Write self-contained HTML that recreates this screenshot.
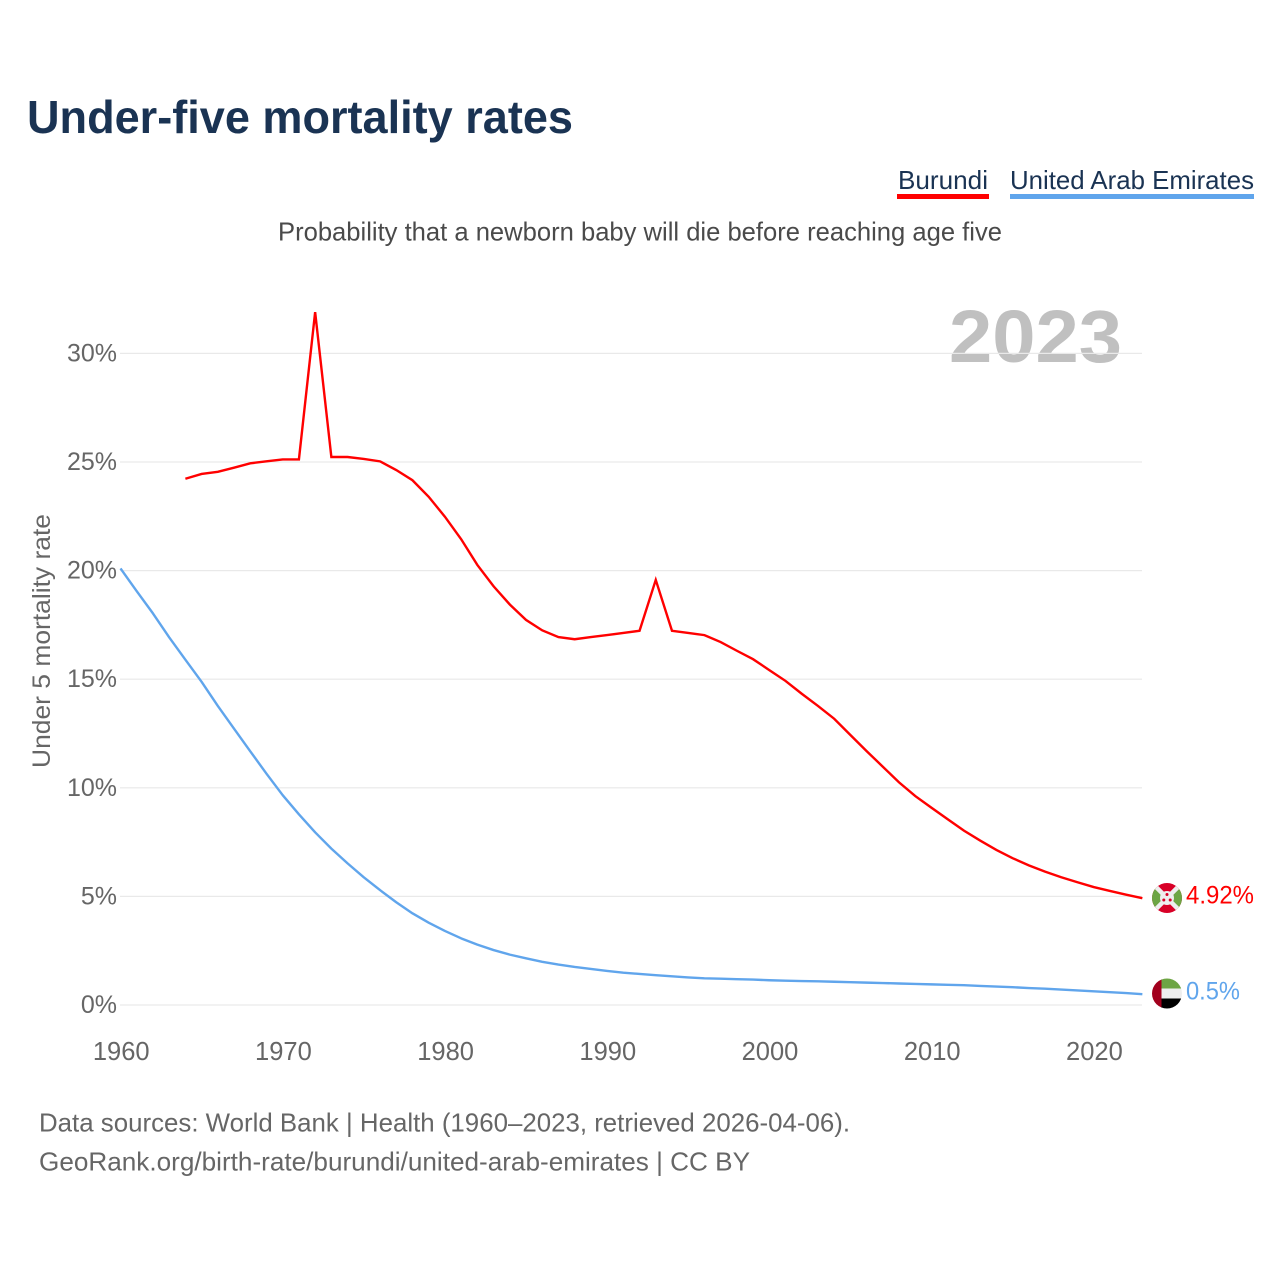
<!DOCTYPE html>
<html lang="en">
<head>
<meta charset="utf-8">
<title>Under-five mortality rates</title>
<style>
html,body{margin:0;padding:0;background:#fff;width:1280px;height:1280px;overflow:hidden}
svg{display:block;font-family:"Liberation Sans",sans-serif}
</style>
</head>
<body>
<svg id="chart" xmlns="http://www.w3.org/2000/svg" width="1280" height="1280" viewBox="0 0 1280 1280">
  <text x="27" y="133" font-size="46" font-weight="700" fill="#1a3353" textLength="546" lengthAdjust="spacingAndGlyphs">Under-five mortality rates</text>
  <text x="898" y="189" font-size="26" fill="#1a3353" textLength="90" lengthAdjust="spacingAndGlyphs">Burundi</text>
  <rect x="897" y="194" width="92" height="5" fill="#ff0000"/>
  <text x="1010" y="189" font-size="26" fill="#1a3353" textLength="244" lengthAdjust="spacingAndGlyphs">United Arab Emirates</text>
  <rect x="1010" y="194" width="244" height="5" fill="#60a5ec"/>
  <text x="278" y="240.5" font-size="26" fill="#4a4a4a" textLength="724" lengthAdjust="spacingAndGlyphs">Probability that a newborn baby will die before reaching age five</text>
  <text x="949" y="362" font-size="74" font-weight="700" fill="#c0c0c0" textLength="173" lengthAdjust="spacingAndGlyphs">2023</text>
  <g id="grid"></g>
  <g id="yticks"></g>
  <g id="xticks"></g>
  <text transform="translate(50,768) rotate(-90)" font-size="25" fill="#666666" textLength="254" lengthAdjust="spacingAndGlyphs">Under 5 mortality rate</text>
  <path id="line-uae" fill="none" stroke="#60a5ec" stroke-width="2.4" stroke-linejoin="round"/>
  <path id="line-burundi" fill="none" stroke="#ff0000" stroke-width="2.4" stroke-linejoin="miter"/>
  <defs>
    <clipPath id="clip-bi"><circle cx="1167" cy="898" r="15"/></clipPath>
    <clipPath id="clip-ae"><circle cx="1167" cy="993.5" r="15"/></clipPath>
  </defs>
  <g id="flag-burundi" clip-path="url(#clip-bi)">
    <rect x="1152" y="883" width="30" height="30" fill="#d80027"/>
    <polygon points="1152,883 1167,898 1152,913" fill="#6da544"/>
    <polygon points="1182,883 1167,898 1182,913" fill="#6da544"/>
    <path d="M1152 883L1182 913M1182 883L1152 913" stroke="#eeeeee" stroke-width="4.5"/>
    <circle cx="1167" cy="898" r="7" fill="#eeeeee"/>
    <circle cx="1167" cy="894.5" r="1.5" fill="#d80027"/>
    <circle cx="1163.8" cy="900" r="1.5" fill="#d80027"/>
    <circle cx="1170.2" cy="900" r="1.5" fill="#d80027"/>
  </g>
  <g id="flag-uae" clip-path="url(#clip-ae)">
    <rect x="1161" y="978.5" width="21" height="10" fill="#6da544"/>
    <rect x="1161" y="988.5" width="21" height="10" fill="#eeeeee"/>
    <rect x="1161" y="998.5" width="21" height="10" fill="#000000"/>
    <rect x="1152" y="978.5" width="9.5" height="30" fill="#a2001d"/>
  </g>
  <text id="value-burundi" x="1186" y="903.5" font-size="25" fill="#ff0000" textLength="68" lengthAdjust="spacingAndGlyphs">4.92%</text>
  <text id="value-uae" x="1186" y="999.5" font-size="25" fill="#60a5ec" textLength="54" lengthAdjust="spacingAndGlyphs">0.5%</text>
  <text x="39" y="1131.5" font-size="26" fill="#666666" textLength="811" lengthAdjust="spacingAndGlyphs">Data sources: World Bank | Health (1960–2023, retrieved 2026-04-06).</text>
  <text x="39" y="1170.5" font-size="26" fill="#666666" textLength="711" lengthAdjust="spacingAndGlyphs">GeoRank.org/birth-rate/burundi/united-arab-emirates | CC BY</text>
</svg>
<script>
const yTickValues = [0, 5, 10, 15, 20, 25, 30];
const xTickYears = [1960, 1970, 1980, 1990, 2000, 2010, 2020];
const burundiStartYear = 1964;
const burundiValues = [24.23,24.45,24.55,24.74,24.94,25.03,25.12,25.12,31.9,25.23,25.23,25.14,25.03,24.63,24.16,23.4,22.48,21.45,20.26,19.28,18.44,17.73,17.25,16.94,16.84,16.94,17.03,17.13,17.23,19.57,17.23,17.13,17.03,16.71,16.31,15.92,15.42,14.92,14.33,13.77,13.18,12.43,11.69,10.97,10.25,9.62,9.08,8.55,8.03,7.57,7.14,6.76,6.43,6.14,5.88,5.65,5.43,5.25,5.08,4.92];
const uaeStartYear = 1960;
const uaeValues = [20.1,19.05,18.03,16.93,15.9,14.88,13.77,12.72,11.68,10.65,9.66,8.78,7.95,7.2,6.52,5.88,5.29,4.73,4.22,3.79,3.41,3.07,2.78,2.53,2.32,2.15,1.99,1.86,1.75,1.66,1.57,1.49,1.43,1.37,1.32,1.27,1.23,1.21,1.19,1.17,1.14,1.12,1.10,1.09,1.07,1.05,1.03,1.01,0.99,0.97,0.95,0.93,0.91,0.88,0.85,0.82,0.78,0.75,0.71,0.67,0.63,0.59,0.55,0.5];

const NS = 'http://www.w3.org/2000/svg';
const xScale = year => 120.5 + (year - 1960) * 16.22;
const yScale = pct => 1005 - pct * 21.72;

const grid = document.getElementById('grid');
const yTicks = document.getElementById('yticks');
const xTicks = document.getElementById('xticks');

yTickValues.forEach(v => {
  const line = document.createElementNS(NS, 'line');
  
  
  line.setAttribute('x1', 120);
  line.setAttribute('x2', 1142);
  line.setAttribute('y1', yScale(v));
  line.setAttribute('y2', yScale(v));
  line.setAttribute('stroke', '#e9e9e9');
  line.setAttribute('stroke-width', 1.2);
  grid.appendChild(line);

  const label = document.createElementNS(NS, 'text');
  
  
  label.setAttribute('x', 117);
  label.setAttribute('y', yScale(v) + 8);
  label.setAttribute('text-anchor', 'end');
  label.setAttribute('font-size', 25);
  label.setAttribute('fill', '#666666');
  label.textContent = v + '%';
  yTicks.appendChild(label);
});

xTickYears.forEach(y => {
  const label = document.createElementNS(NS, 'text');
  
  
  label.setAttribute('x', xScale(y) + 0.7);
  label.setAttribute('y', 1060);
  label.setAttribute('text-anchor', 'middle');
  label.setAttribute('font-size', 25.5);
  label.setAttribute('fill', '#666666');
  label.textContent = y;
  xTicks.appendChild(label);
});

function linePath(values, startYear) {
  return values.map((v, i) => (i ? 'L' : 'M') + xScale(startYear + i).toFixed(2) + ' ' + yScale(v).toFixed(2)).join('');
}
document.getElementById('line-burundi').setAttribute('d', linePath(burundiValues, burundiStartYear));
document.getElementById('line-uae').setAttribute('d', linePath(uaeValues, uaeStartYear));
</script>
</body>
</html>
